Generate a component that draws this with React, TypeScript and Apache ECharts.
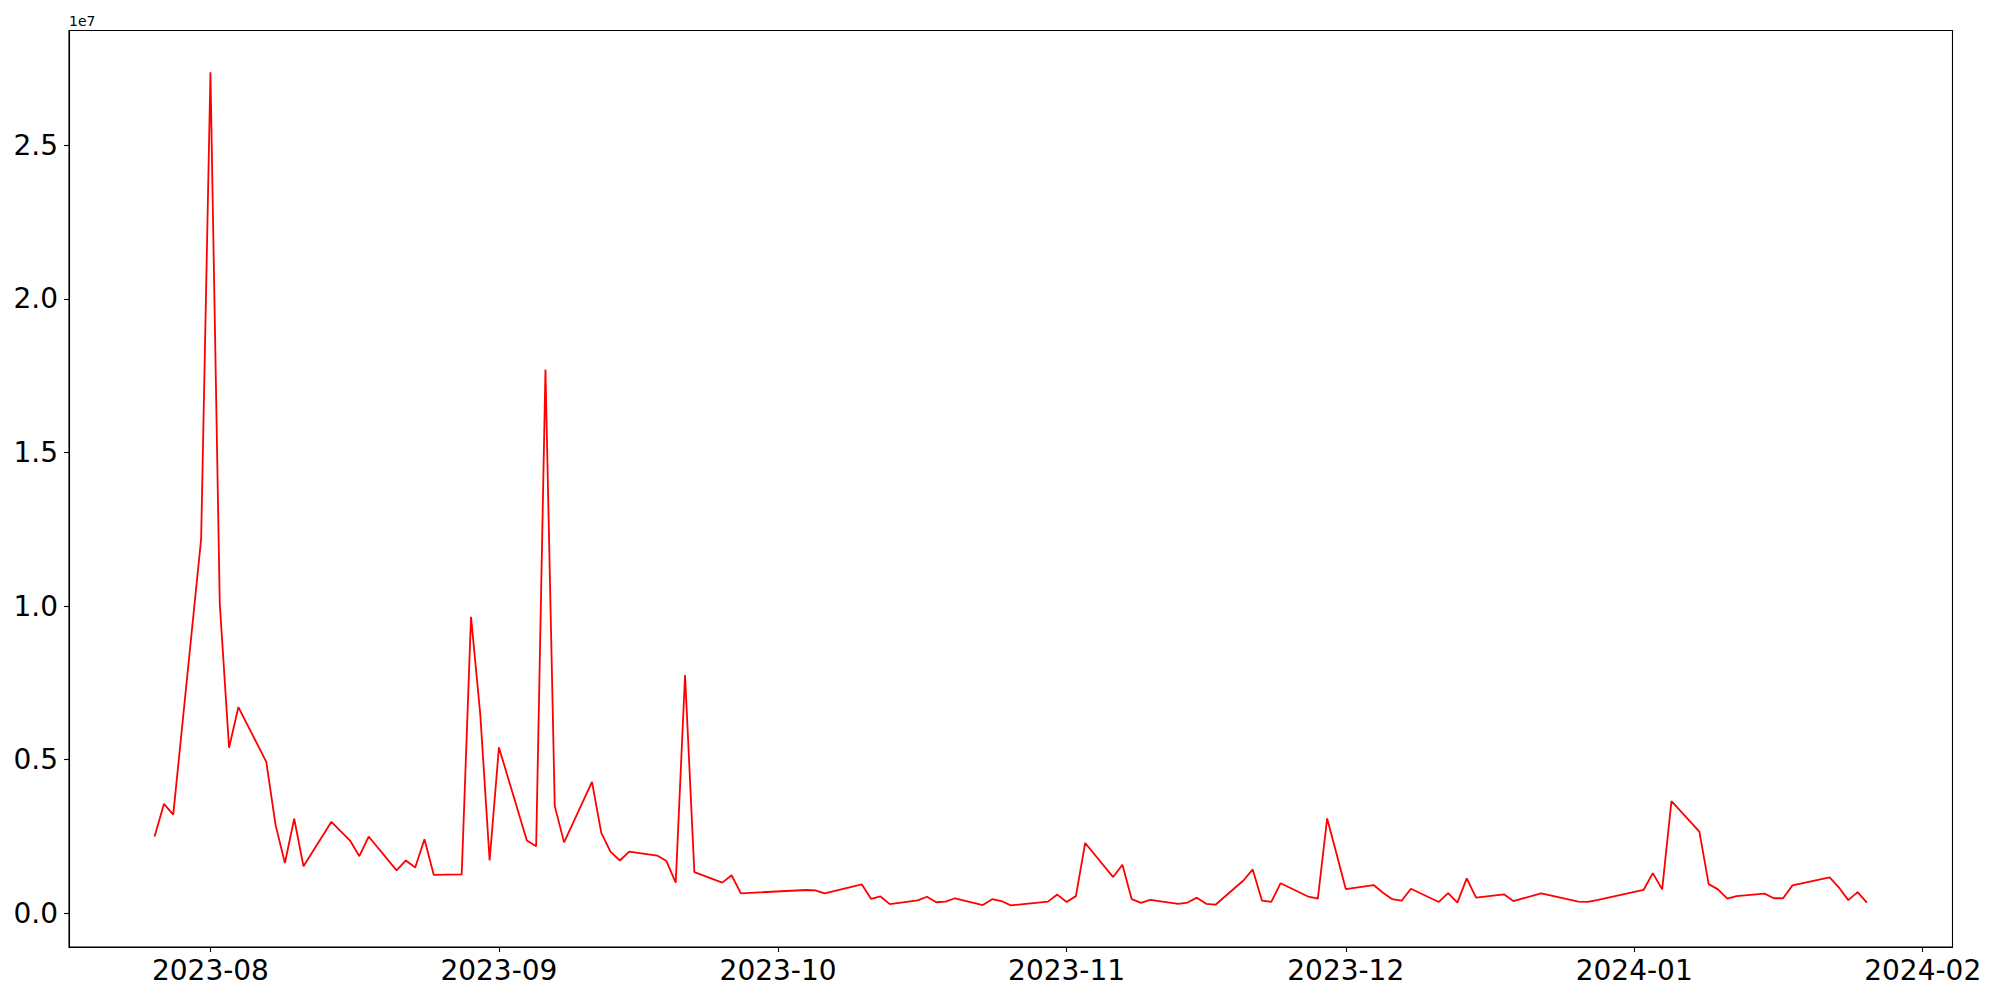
import React, { useEffect, useRef } from "react";
import * as echarts from "echarts";

const dates: string[] = [
  "2023-07-26", "2023-07-27", "2023-07-28", "2023-07-31",
  "2023-08-01", "2023-08-02", "2023-08-03", "2023-08-04", "2023-08-07", "2023-08-08", "2023-08-09", "2023-08-10", "2023-08-11",
  "2023-08-14", "2023-08-16", "2023-08-17", "2023-08-18", "2023-08-21", "2023-08-22", "2023-08-23", "2023-08-24", "2023-08-25",
  "2023-08-28", "2023-08-29", "2023-08-30", "2023-08-31",
  "2023-09-01", "2023-09-04", "2023-09-05", "2023-09-06", "2023-09-07", "2023-09-08", "2023-09-11", "2023-09-12", "2023-09-13",
  "2023-09-14", "2023-09-15", "2023-09-18", "2023-09-19", "2023-09-20", "2023-09-21", "2023-09-22", "2023-09-25", "2023-09-26",
  "2023-09-27",
  "2023-10-04", "2023-10-05", "2023-10-06", "2023-10-10", "2023-10-11", "2023-10-12", "2023-10-13", "2023-10-16", "2023-10-17",
  "2023-10-18", "2023-10-19", "2023-10-20", "2023-10-23", "2023-10-24", "2023-10-25", "2023-10-26", "2023-10-30", "2023-10-31",
  "2023-11-01", "2023-11-02", "2023-11-03", "2023-11-06", "2023-11-07", "2023-11-08", "2023-11-09", "2023-11-10", "2023-11-13",
  "2023-11-14", "2023-11-15", "2023-11-16", "2023-11-17", "2023-11-20", "2023-11-21", "2023-11-22", "2023-11-23", "2023-11-24",
  "2023-11-27", "2023-11-28", "2023-11-29", "2023-11-30",
  "2023-12-01", "2023-12-04", "2023-12-05", "2023-12-06", "2023-12-07", "2023-12-08", "2023-12-11", "2023-12-12", "2023-12-13",
  "2023-12-14", "2023-12-15", "2023-12-18", "2023-12-19", "2023-12-22", "2023-12-26", "2023-12-27", "2023-12-28",
  "2024-01-02", "2024-01-03", "2024-01-04", "2024-01-05", "2024-01-08", "2024-01-09", "2024-01-10", "2024-01-11", "2024-01-12",
  "2024-01-15", "2024-01-16", "2024-01-17", "2024-01-18", "2024-01-22", "2024-01-23", "2024-01-24", "2024-01-25", "2024-01-26",
];

// values in millions
const valuesM: number[] = [
  2.50, 3.56, 3.21, 12.19,
  27.38, 10.09, 5.39, 6.71, 4.93, 2.87, 1.64, 3.08, 1.53,
  2.98, 2.37, 1.86, 2.50, 1.40, 1.72, 1.49, 2.41, 1.25,
  1.27, 9.65, 6.46, 1.72,
  5.40, 2.37, 2.18, 17.70, 3.49, 2.31, 4.28, 2.62, 2.00,
  1.72, 2.01, 1.88, 1.70, 1.00, 7.76, 1.34, 1.00, 1.24,
  0.65,
  0.76, 0.75, 0.65, 0.94, 0.47, 0.55, 0.30, 0.42, 0.54,
  0.36, 0.38, 0.49, 0.27, 0.46, 0.40, 0.26, 0.38, 0.61,
  0.37, 0.56, 2.29, 1.18, 1.58, 0.46, 0.34, 0.44, 0.31,
  0.35, 0.51, 0.31, 0.28, 1.07, 1.43, 0.41, 0.37, 0.98,
  0.54, 0.48, 3.09, 1.95,
  0.79, 0.92, 0.67, 0.46, 0.41, 0.80, 0.37, 0.66, 0.35,
  1.14, 0.51, 0.62, 0.40, 0.65, 0.38, 0.37, 0.43,
  0.76, 1.31, 0.78, 3.65, 2.66, 0.95, 0.78, 0.48, 0.56,
  0.64, 0.49, 0.49, 0.91, 1.17, 0.84, 0.43, 0.69, 0.35,
];

const xTickLabels: string[] = ["2023-08", "2023-09", "2023-10", "2023-11", "2023-12", "2024-01", "2024-02"];
const yTickValues: number[] = [0, 0.5e7, 1.0e7, 1.5e7, 2.0e7, 2.5e7];
const offsetText = "1e7";

const toTs = (s: string) => {
  const [y, m, d] = s.split("-").map(Number);
  return Date.UTC(y, m - 1, d || 1);
};

export default function App() {
  const ref = useRef<HTMLDivElement>(null);
  useEffect(() => {
    if (!ref.current) return;
    const chart = echarts.init(ref.current, undefined, { renderer: "svg" });
    const ts = dates.map(toTs);
    const vals = valuesM.map((v) => v * 1e6);
    const data = ts.map((t, i) => [t, vals[i]]);
    const xMinD = Math.min(...ts);
    const xMaxD = Math.max(...ts);
    const xPad = (xMaxD - xMinD) * 0.05;
    const yMinD = Math.min(...vals);
    const yMaxD = Math.max(...vals);
    const yPad = (yMaxD - yMinD) * 0.05;
    const xTicks = xTickLabels.map(toTs);
    const font = "DejaVu Sans";

    chart.setOption({
      animation: false,
      backgroundColor: "#ffffff",
      grid: {
        left: 69,
        top: 30.5,
        right: 47.5,
        bottom: 53,
        show: true,
        borderColor: "#000",
        borderWidth: 1.1,
        backgroundColor: "transparent",
      },
      xAxis: {
        type: "value",
        min: xMinD - xPad,
        max: xMaxD + xPad,
        scale: true,
        splitLine: { show: false },
        axisLine: { show: true, onZero: false, lineStyle: { color: "#000", width: 1.1 } },
        axisTick: {
          show: true,
          length: 5,
          inside: false,
          lineStyle: { color: "#000", width: 1.1 },
          customValues: xTicks,
        },
        axisLabel: {
          show: true,
          customValues: xTicks,
          margin: 9,
          color: "#000",
          fontFamily: font,
          fontSize: 28,
          formatter: (v: number) => {
            const d = new Date(v);
            const m = d.getUTCMonth() + 1;
            return `${d.getUTCFullYear()}-${m < 10 ? "0" + m : m}`;
          },
          hideOverlap: false,
        },
      },
      yAxis: {
        type: "value",
        min: yMinD - yPad,
        max: yMaxD + yPad,
        splitLine: { show: false },
        axisLine: { show: true, onZero: false, lineStyle: { color: "#000", width: 1.1 } },
        axisTick: {
          show: true,
          length: 5,
          lineStyle: { color: "#000", width: 1.1 },
          customValues: yTickValues,
        },
        axisLabel: {
          show: true,
          customValues: yTickValues,
          margin: 11,
          color: "#000",
          fontFamily: font,
          fontSize: 28,
          formatter: (v: number) => (v / 1e7).toFixed(1),
        },
      },
      graphic: [
        {
          type: "text",
          x: 69,
          y: 28,
          style: {
            text: offsetText,
            fontFamily: font,
            fontSize: 14,
            fill: "#000",
            align: "left",
            verticalAlign: "bottom",
          },
        },
      ],
      series: [
        {
          type: "line",
          data,
          showSymbol: false,
          symbol: "none",
          lineStyle: { color: "#ff0000", width: 1.8 },
          itemStyle: { color: "#ff0000" },
          clip: true,
        },
      ],
    });
    return () => chart.dispose();
  }, []);
  return (
    <div
      ref={ref}
      style={{ position: "absolute", left: 0, top: 0, width: 2000, height: 1000 }}
    />
  );
}
